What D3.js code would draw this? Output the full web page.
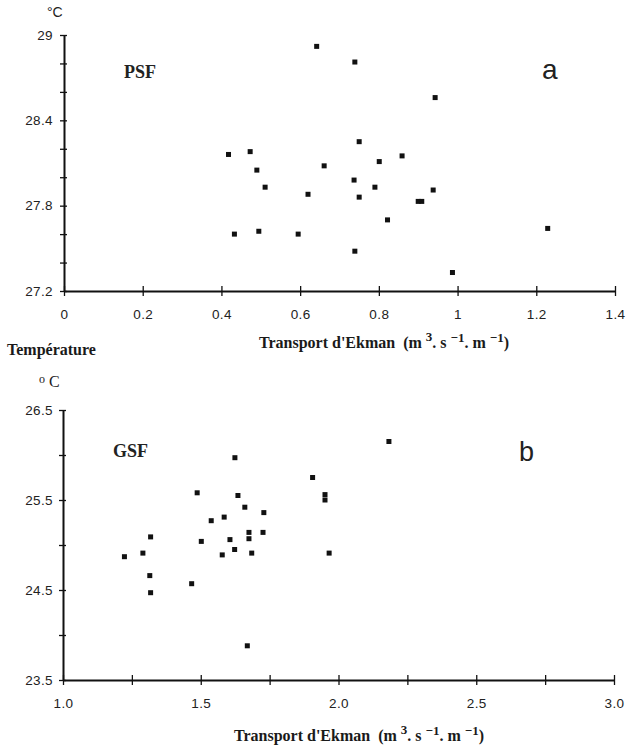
<!DOCTYPE html>
<html><head><meta charset="utf-8">
<script src="https://cdn.jsdelivr.net/npm/d3@7"></script>
<style>body{margin:0;background:#fff}</style>
</head><body>
<svg id="c" width="626" height="750"></svg>
<script>
// Panel a (PSF)
const psfX = [0.418,0.473,0.490,0.511,0.433,0.495,0.595,0.620,0.642,0.739,0.943,0.750,0.859,0.661,0.801,0.737,0.790,0.750,0.938,0.900,0.909,0.822,1.229,0.739,0.987];
const psfY = [28.16,28.18,28.05,27.93,27.60,27.62,27.60,27.88,28.92,28.81,28.56,28.25,28.15,28.08,28.11,27.98,27.93,27.86,27.91,27.83,27.83,27.70,27.64,27.48,27.33];
// Panel b (GSF)
const gsfX = [1.223,1.290,1.318,1.315,1.318,1.467,1.487,1.502,1.538,1.585,1.578,1.606,1.623,1.624,1.635,1.660,1.675,1.675,1.685,1.729,1.726,1.669,1.906,1.951,1.951,1.966,2.183];
const gsfY = [24.87,24.91,25.09,24.66,24.47,24.57,25.58,25.04,25.27,25.31,24.89,25.06,24.95,25.97,25.55,25.42,25.14,25.07,24.91,25.36,25.14,23.88,25.75,25.56,25.50,24.91,26.15];

const aXTicks = [0,0.2,0.4,0.6,0.8,1,1.2,1.4];
const aYTicks = [27.2,27.4,27.6,27.8,28.0,28.2,28.4,28.6,28.8,29];
const aYLabels = [27.2,27.8,28.4,29];
const bXTicks = [1,1.25,1.5,1.75,2,2.25,2.5,2.75,3];
const bXLabels = [1,1.5,2,2.5,3];
const bYTicks = [23.5,24,24.5,25,25.5,26,26.5];
const bYLabels = [23.5,24.5,25.5,26.5];

const svg = d3.select("#c");
const sans = "'Liberation Sans', Arial, sans-serif";
const serif = "'Liberation Serif', 'Times New Roman', serif";

function panel(o){
  const g = svg.append("g");
  const x = d3.scaleLinear().domain(o.xd).range(o.xr);
  const y = d3.scaleLinear().domain(o.yd).range(o.yr);
  // x axis
  const xa = g.append("g").attr("transform",`translate(0,${o.yr[0]})`)
    .call(d3.axisBottom(x).tickValues(o.xTicks).tickSizeOuter(0).tickFormat(d => o.xLabels.includes(d) ? o.xFmt(d) : ""));
  xa.select(".domain").attr("stroke","#111").attr("stroke-width",2);
  xa.selectAll(".tick line").attr("y1",-5).attr("y2",5).attr("stroke","#111").attr("stroke-width",1.3);
  xa.selectAll(".tick text").attr("y",18).attr("font-family",sans).attr("font-size",13.5).attr("letter-spacing",0.4).attr("fill","#222");
  // y axis
  const ya = g.append("g").attr("transform",`translate(${o.xr[0]},0)`)
    .call(d3.axisLeft(y).tickValues(o.yTicks).tickSizeOuter(0).tickFormat(d => o.yLabels.some(v=>Math.abs(v-d)<1e-9) ? o.yFmt(d) : ""));
  ya.select(".domain").attr("stroke","#111").attr("stroke-width",2);
  ya.selectAll(".tick line").attr("x1",-4).attr("x2",3).attr("stroke","#111").attr("stroke-width",1.3);
  ya.selectAll(".tick text").attr("x",o.ylx).attr("font-family",sans).attr("font-size",13.5).attr("letter-spacing",0.4).attr("fill","#222");
  // points
  g.selectAll("rect.pt").data(o.X.map((v,i)=>[v,o.Y[i]])).join("rect")
    .attr("class","pt").attr("x",d=>x(d[0])-2.5).attr("y",d=>y(d[1])-2.5)
    .attr("width",5).attr("height",5).attr("fill","#111");
  return {x,y,g};
}

panel({xd:[0,1.4], xr:[64,615], yd:[27.2,29], yr:[291,35],
  xTicks:aXTicks, xLabels:aXTicks, xFmt:d3.format("~g"),
  yTicks:aYTicks, yLabels:aYLabels, yFmt:d3.format("~g"), ylx:-11,
  X:psfX, Y:psfY});

panel({xd:[1,3], xr:[63,614], yd:[23.5,26.5], yr:[680,410],
  xTicks:bXTicks, xLabels:bXLabels, xFmt:d3.format(".1f"),
  yTicks:bYTicks, yLabels:bYLabels, yFmt:d3.format(".1f"), ylx:-10,
  X:gsfX, Y:gsfY});

// Texts
svg.append("text").attr("x",47).attr("y",17).attr("font-family",sans).attr("font-size",14).attr("fill","#222").text("°C");
svg.append("text").attr("x",124).attr("y",78).attr("font-family",serif).attr("font-weight","bold").attr("font-size",18).attr("fill","#222").text("PSF");
svg.append("text").attr("x",542).attr("y",79).attr("font-family",sans).attr("font-size",28).attr("fill","#222").text("a");

function xTitle(cx, cy){
  const t = svg.append("text").attr("x",cx).attr("y",cy).attr("text-anchor","middle")
    .attr("font-family",serif).attr("font-weight","bold").attr("font-size",16).attr("fill","#1a1a1a");
  t.append("tspan").text("Transport d'Ekman \u00a0(m ");
  t.append("tspan").attr("dy",-7).attr("font-size",13).text("3");
  t.append("tspan").attr("dy",7).text(". s ");
  t.append("tspan").attr("dy",-6).attr("font-size",13).text("−1");
  t.append("tspan").attr("dy",6).text(". m ");
  t.append("tspan").attr("dy",-6).attr("font-size",13).text("−1");
  t.append("tspan").attr("dy",6).text(")");
}
xTitle(384, 348);
svg.append("text").attr("x",7).attr("y",355).attr("font-family",serif).attr("font-weight","bold").attr("font-size",16).attr("fill","#1a1a1a").text("Température");

const dc = svg.append("text").attr("x",39).attr("y",387).attr("font-family",serif).attr("font-size",16).attr("fill","#222");
dc.append("tspan").attr("font-size",12).attr("dy",-4).text("o");
dc.append("tspan").attr("dy",4).text(" C");
svg.append("text").attr("x",113).attr("y",457).attr("font-family",serif).attr("font-weight","bold").attr("font-size",18).attr("fill","#222").text("GSF");
svg.append("text").attr("x",519).attr("y",461).attr("font-family",sans).attr("font-size",27).attr("fill","#222").text("b");
xTitle(359, 741);
</script>
</body></html>
